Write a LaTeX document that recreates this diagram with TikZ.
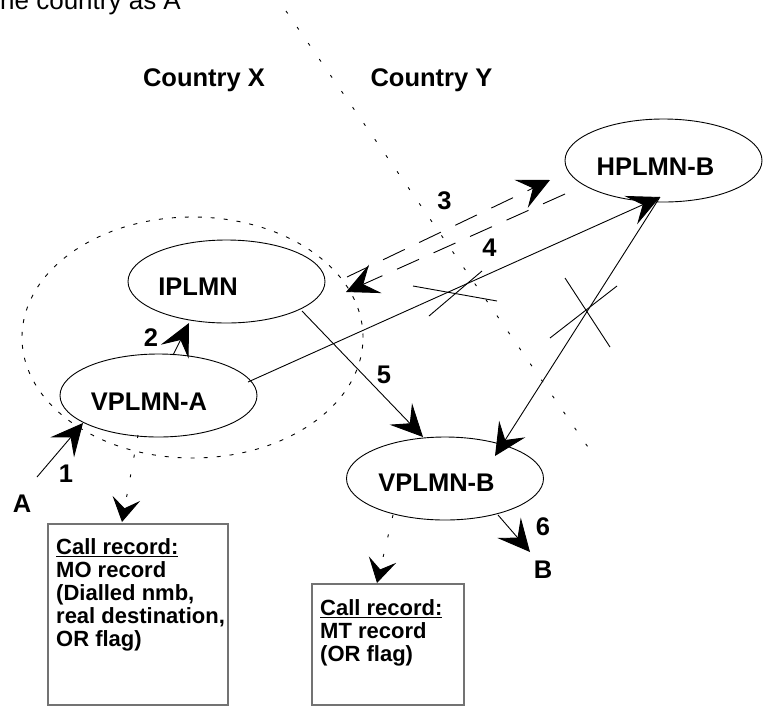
\documentclass[tikz,border=0pt]{standalone}
\usepackage{fontspec}
\setmainfont{Liberation Sans}
\usetikzlibrary{arrows.meta,shapes.geometric,calc}
\begin{document}
\begin{tikzpicture}[x=1pt,y=-1pt,
  net/.style={ellipse, draw, line width=0.9pt, minimum width=197pt, minimum height=83pt, inner sep=0pt},
  grp/.style={ellipse, draw, line width=0.9pt, dash pattern=on 4pt off 9pt, minimum width=341pt, minimum height=241pt, inner sep=0pt},
  lbl/.style={font=\bfseries\fontsize{25.5}{30}\selectfont, inner sep=0pt, anchor=base},
  flow/.style={line width=0.9pt, -{Stealth[length=32pt,width=31pt,inset=13pt]}},
  sig/.style={flow, dash pattern=on 24pt off 16pt},
  rec/.style={line width=0.9pt, dash pattern=on 3pt off 17pt, -{Stealth[length=24pt,width=28pt,inset=10pt]}},
  border/.style={line width=0.9pt, dash pattern=on 3pt off 16.5pt},
  cut/.style={line width=0.9pt},
  recbox/.style={rectangle, draw=black!55, line width=1.3pt, inner sep=0pt},
  boxtext/.style={font=\bfseries\fontsize{22}{23.2}\selectfont, align=left, anchor=north west, inner sep=0pt}]
\useasboundingbox (0,0) rectangle (763,713);
\clip (0,0) rectangle (763,713);

% caption fragment
\node[font=\fontsize{26}{30}\selectfont, inner sep=0pt, anchor=base west] (cap) at (0,9) {ne country as A};

% border between the two countries
\coordinate (bdtop) at (286,11);
\coordinate (bdbot) at (590,450);
\draw[border] (bdtop) -- (bdbot);

\node[lbl] (cx) at (204,86.5) {Country X};
\node[lbl] (cy) at (431.5,86.5) {Country Y};

% networks
\node[grp] (grp) at (192.5,337.5) {};
\node[net] (ipl) at (226.5,281.5) {};
\node[net] (vpa) at (158.5,395.5) {};
\node[net] (hpb) at (663.5,160.5) {};
\node[net] (vpb) at (445,478.5) {};

\node[lbl] (ipl-t) at ($(ipl)+(-28.5,13.5)$) {IPLMN};
\node[lbl] (vpa-t) at ($(vpa)+(-9.5,14.5)$) {VPLMN-A};
\node[lbl] (hpb-t) at ($(hpb)+(-8,14.5)$) {HPLMN-B};
\node[lbl] (vpb-t) at ($(vpb)+(-8.5,13)$) {VPLMN-B};

% subscribers
\node[lbl] (lA) at (22,512) {A};
\node[lbl] (lB) at (543,578) {B};

% step numbers
\node[lbl] (n1) at (66,482) {1};
\node[lbl] (n2) at (151,346) {2};
\node[lbl] (n3) at (444.5,209) {3};
\node[lbl] (n4) at (489.5,256) {4};
\node[lbl] (n5) at (384,383) {5};
\node[lbl] (n6) at (543,535) {6};

% call records
\node[recbox, minimum width=180pt, minimum height=181pt] (mo) at (138,614.5) {};
\node[boxtext] (mo-t) at (56,538) {\underline{Call record:}\\MO record\\(Dialled nmb,\\real destination,\\OR flag)};
\node[recbox, minimum width=152pt, minimum height=121pt] (mt) at (388,644.5) {};
\node[boxtext] (mt-t) at (320,599) {\underline{Call record:}\\MT record\\(OR flag)};

% call flow
\draw[flow] ($(lA.base)+(15,-35)$) -- ($(vpa)+(-75.5,27.5)$);
\draw[flow] ($(vpa)+(14.5,-40.5)$) -- ($(ipl)+(-37.5,41.5)$);
\draw[sig] ($(ipl)+(120.5,-4.5)$) -- ($(hpb)+(-113.5,19.5)$);
\draw[sig] ($(hpb)+(-98.5,33.5)$) -- ($(ipl)+(119.5,10.5)$);
\draw[flow] ($(vpa)+(89.5,-13.5)$) -- ($(hpb)+(-3.5,36.5)$);
\draw[flow] ($(hpb)+(-3.5,36.5)$) -- ($(vpb)+(50,-22.5)$);
\draw[flow] ($(ipl)+(75.5,29.5)$) -- ($(vpb)+(-22,-41.5)$);
\draw[flow] ($(vpb)+(53,36.5)$) -- ($(lB.base)+(-13,-26)$);
\draw[rec] ($(vpa)+(-20.5,39.5)$) -- ($(mo)+(-16,-92.5)$);
\draw[rec] ($(vpb)+(-52,36.5)$) -- ($(mt)+(-11,-61.5)$);

% crossed-out direct routes
\coordinate (cut1) at (455,293);
\draw[cut] ($(cut1)+(-42,-7)$) -- ($(cut1)+(42,8)$);
\draw[cut] ($(cut1)+(-26,23)$) -- ($(cut1)+(27,-22)$);
\coordinate (cut2) at (587,310);
\draw[cut] ($(cut2)+(-22,-32)$) -- ($(cut2)+(23,37)$);
\draw[cut] ($(cut2)+(-37,28)$) -- ($(cut2)+(30,-24)$);
\end{tikzpicture}
\end{document}
